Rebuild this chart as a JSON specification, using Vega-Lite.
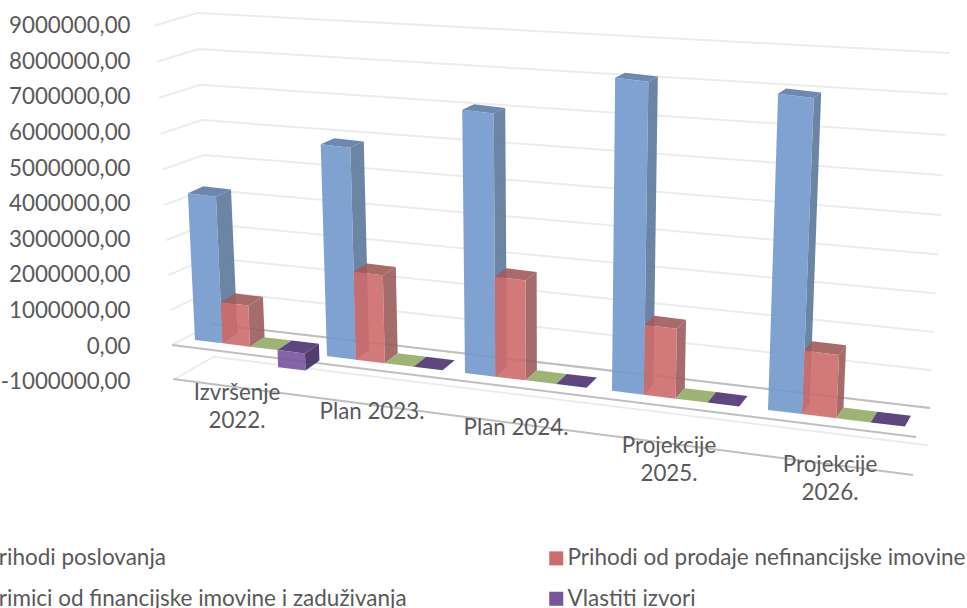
{
"$schema":"https://vega.github.io/schema/vega-lite/v6.json",
"width":834,"height":608,"autosize":"none","padding":{"left":133,"top":0,"right":0,"bottom":0},
"background":"white",
"config":{"view":{"stroke":null}},
"datasets":{"rows":[
{"category":"Izvršenje 2022.","series":"Prihodi poslovanja","value":4020000},
{"category":"Izvršenje 2022.","series":"Prihodi od prodaje nefinancijske imovine","value":1120000},
{"category":"Izvršenje 2022.","series":"Primici od financijske imovine i zaduživanja","value":0},
{"category":"Izvršenje 2022.","series":"Vlastiti izvori","value":-460000},
{"category":"Plan 2023.","series":"Prihodi poslovanja","value":5650000},
{"category":"Plan 2023.","series":"Prihodi od prodaje nefinancijske imovine","value":2330000},
{"category":"Plan 2023.","series":"Primici od financijske imovine i zaduživanja","value":0},
{"category":"Plan 2023.","series":"Vlastiti izvori","value":0},
{"category":"Plan 2024.","series":"Prihodi poslovanja","value":6830000},
{"category":"Plan 2024.","series":"Prihodi od prodaje nefinancijske imovine","value":2580000},
{"category":"Plan 2024.","series":"Primici od financijske imovine i zaduživanja","value":0},
{"category":"Plan 2024.","series":"Vlastiti izvori","value":0},
{"category":"Projekcije 2025.","series":"Prihodi poslovanja","value":7900000},
{"category":"Projekcije 2025.","series":"Prihodi od prodaje nefinancijske imovine","value":1750000},
{"category":"Projekcije 2025.","series":"Primici od financijske imovine i zaduživanja","value":0},
{"category":"Projekcije 2025.","series":"Vlastiti izvori","value":0},
{"category":"Projekcije 2026.","series":"Prihodi poslovanja","value":7750000},
{"category":"Projekcije 2026.","series":"Prihodi od prodaje nefinancijske imovine","value":1540000},
{"category":"Projekcije 2026.","series":"Primici od financijske imovine i zaduživanja","value":0},
{"category":"Projekcije 2026.","series":"Vlastiti izvori","value":0}
],
"ticks":[{"tick":-1000000},{"tick":0},{"tick":1000000},{"tick":2000000},{"tick":3000000},{"tick":4000000},{"tick":5000000},{"tick":6000000},{"tick":7000000},{"tick":8000000},{"tick":9000000}],
"floor":[{"edge":"front","level":0},{"edge":"front","level":-1},{"edge":"back","level":0}]
},
"layer":[
{"data":{"name":"ticks"},
 "transform":[
  {"calculate":"datum.tick/1000000","as":"m"},
  {"calculate":"[0,1,2]","as":"ps"},{"flatten":["ps"],"as":["p"]},
  {"calculate":"datum.p==0?172-1.9*datum.m:datum.p==1?212-1.67*datum.m:930+2.2*datum.m","as":"xp"},
  {"calculate":"datum.p==0?345-34.6*datum.m-0.1*datum.m*datum.m:datum.p==1?324-32.86*datum.m-0.189*datum.m*datum.m:408-37.54*datum.m-0.211*datum.m*datum.m","as":"yp"},
  {"calculate":"(344.6-datum.yp)/35.6*1000000","as":"yv"}],
 "mark":{"type":"line","stroke":"#ececec","strokeWidth":2},
 "encoding":{
  "x":{"field":"xp","type":"quantitative","scale":{"domain":[133,967],"nice":false,"zero":false},"axis":null},
  "y":{"field":"yv","type":"quantitative","scale":{"domain":[-7398876,9679775],"nice":false,"zero":false},
   "axis":{"title":null,"values":[-1000000,0,1000000,2000000,3000000,4000000,5000000,6000000,7000000,8000000,9000000],"domain":false,"ticks":false,"grid":false,"labelPadding":3,"labelOffset":1.5,"labelFont":"Lato","labelFontSize":22.3,"labelColor":"#595959","labelExpr":"replace(replace(format(datum.value,'.2f'),'.',','),'−','-')"}},
  "detail":{"field":"tick"},"order":{"field":"p"}}},
{"data":{"name":"floor"},
 "transform":[
  {"calculate":"datum.edge=='back'?212:datum.level==0?172:173","as":"x1"},
  {"calculate":"datum.edge=='back'?930:datum.level==0?916:913","as":"x2"},
  {"calculate":"(344.6-(datum.edge=='back'?324:datum.level==0?345:379))/35.6*1000000","as":"y1"},
  {"calculate":"(344.6-(datum.edge=='back'?408:datum.level==0?437:475))/35.6*1000000","as":"y2"}],
 "mark":{"type":"rule","stroke":"#bfbfbf","strokeWidth":2},
 "encoding":{"x":{"field":"x1","type":"quantitative"},"x2":{"field":"x2"},"y":{"field":"y1","type":"quantitative"},"y2":{"field":"y2"}}},
{"data":{"name":"rows"},
 "transform":[
  {"calculate":"indexof(['Izvršenje 2022.','Plan 2023.','Plan 2024.','Projekcije 2025.','Projekcije 2026.'],datum.category)","as":"i"},
  {"calculate":"indexof(['Prihodi poslovanja','Prihodi od prodaje nefinancijske imovine','Primici od financijske imovine i zaduživanja','Vlastiti izvori'],datum.series)","as":"s"},
  {"calculate":"[27.5,28.9,30.4,31.8,34.2][datum.i]","as":"w"},
  {"calculate":"[195,327,465,612,768][datum.i]+datum.s*datum.w","as":"xb"},
  {"calculate":"['side','top']","as":"fs"},{"flatten":["fs"],"as":["face"]},
  {"calculate":"[0,1,2,3]","as":"cs"},{"flatten":["cs"],"as":["c"]},
  {"calculate":"datum.s+'|'+datum.i+'|'+datum.face","as":"key"},
  {"calculate":"datum.s+'|'+datum.face","as":"shade"},
  {"calculate":"datum.face=='side'?1:((datum.c==1||datum.c==2)?1:0)","as":"a"},
  {"calculate":"datum.face=='side'?((datum.c==1||datum.c==2)?1:0):1","as":"t"},
  {"calculate":"datum.c>=2?1:0","as":"b"},
  {"calculate":"datum.xb+datum.a*datum.w","as":"x0"},
  {"calculate":"340+0.122*(datum.x0-195)","as":"y0"},
  {"calculate":"(datum.face=='top'?max(datum.value,0):datum.t*datum.value)*(36.5+(datum.xb-195)*0.0075)/1000000","as":"h"},
  {"calculate":"datum.x0+(datum.x0-540)*0.00014*datum.h","as":"xf"},
  {"calculate":"datum.y0-datum.h","as":"yf"},
  {"calculate":"datum.xf+datum.b*(15.4-(datum.xf-187)*0.0128)","as":"xp"},
  {"calculate":"datum.yf-datum.b*(3.73+0.0167*datum.yf)","as":"yp"},
  {"calculate":"(344.6-datum.yp)/35.6*1000000","as":"yv"}],
 "mark":{"type":"line","strokeWidth":0,"opacity":0.9},
 "encoding":{
  "x":{"field":"xp","type":"quantitative"},"y":{"field":"yv","type":"quantitative"},
  "fill":{"field":"shade","type":"nominal","legend":null,"sort":null,"scale":{"domain":["0|side","0|top","1|side","1|top","2|side","2|top","3|side","3|top"],"range":["#5D789A","#5F7BA7","#9B5C5C","#A05A5A","#7F9A50","#94AC65","#3F2861","#4D3371"]}},
  "detail":{"field":"key"},"order":{"field":"c"}}},
{"data":{"name":"rows"},
 "transform":[
  {"calculate":"indexof(['Izvršenje 2022.','Plan 2023.','Plan 2024.','Projekcije 2025.','Projekcije 2026.'],datum.category)","as":"i"},
  {"calculate":"indexof(['Prihodi poslovanja','Prihodi od prodaje nefinancijske imovine','Primici od financijske imovine i zaduživanja','Vlastiti izvori'],datum.series)","as":"s"},
  {"calculate":"[27.5,28.9,30.4,31.8,34.2][datum.i]","as":"w"},
  {"calculate":"[195,327,465,612,768][datum.i]+datum.s*datum.w","as":"xb"},
  {"calculate":"[0,1,2,3]","as":"cs"},{"flatten":["cs"],"as":["c"]},
  {"calculate":"datum.s+'|'+datum.i","as":"key"},
  {"calculate":"(datum.c==1||datum.c==2)?1:0","as":"a"},
  {"calculate":"datum.c>=2?1:0","as":"t"},
  {"calculate":"datum.xb+datum.a*datum.w","as":"x0"},
  {"calculate":"340+0.122*(datum.x0-195)","as":"y0"},
  {"calculate":"datum.t*datum.value*(36.5+(datum.xb-195)*0.0075)/1000000","as":"h"},
  {"calculate":"datum.x0+(datum.x0-540)*0.00014*datum.h","as":"xp"},
  {"calculate":"datum.y0-datum.h","as":"yp"},
  {"calculate":"(344.6-datum.yp)/35.6*1000000","as":"yv"}],
 "mark":{"type":"line","strokeWidth":0,"opacity":0.9},
 "encoding":{
  "x":{"field":"xp","type":"quantitative"},"y":{"field":"yv","type":"quantitative"},
  "fill":{"field":"series","type":"nominal","scale":{"domain":["Prihodi poslovanja","Prihodi od prodaje nefinancijske imovine","Primici od financijske imovine i zaduživanja","Vlastiti izvori"],"range":["#7198CB","#CD6C6C","#93B14E","#77559E"]},
   "legend":{"title":null,"orient":"none","legendX":-170,"legendY":547,"columns":2,"direction":"horizontal","columnPadding":138,"rowPadding":17.5,"symbolType":"square","symbolSize":196,"symbolStrokeWidth":0,"symbolOpacity":1,"labelFont":"Lato","labelFontSize":22.5,"labelColor":"#595959","labelLimit":500,"labelOffset":0}},
  "detail":{"field":"key"},"order":{"field":"c"}}},
{"data":{"name":"rows"},
 "transform":[
  {"filter":"datum.series=='Prihodi poslovanja'"},
  {"calculate":"indexof(['Izvršenje 2022.','Plan 2023.','Plan 2024.','Projekcije 2025.','Projekcije 2026.'],datum.category)","as":"i"},
  {"calculate":"replace(replace(datum.category,'Izvršenje ','Izvršenje\\n'),'Projekcije ','Projekcije\\n')","as":"lab"},
  {"calculate":"[237,372,516,669,830][datum.i]","as":"xp"},
  {"calculate":"(344.6-[400,419,435,453,472][datum.i])/35.6*1000000","as":"yv"}],
 "mark":{"type":"text","font":"Lato","fontSize":22.3,"color":"#595959","lineBreak":"\n","lineHeight":28,"align":"center","baseline":"alphabetic"},
 "encoding":{"x":{"field":"xp","type":"quantitative"},"y":{"field":"yv","type":"quantitative"},"text":{"field":"lab"}}}
],
"resolve":{"scale":{"fill":"independent"}}
}
